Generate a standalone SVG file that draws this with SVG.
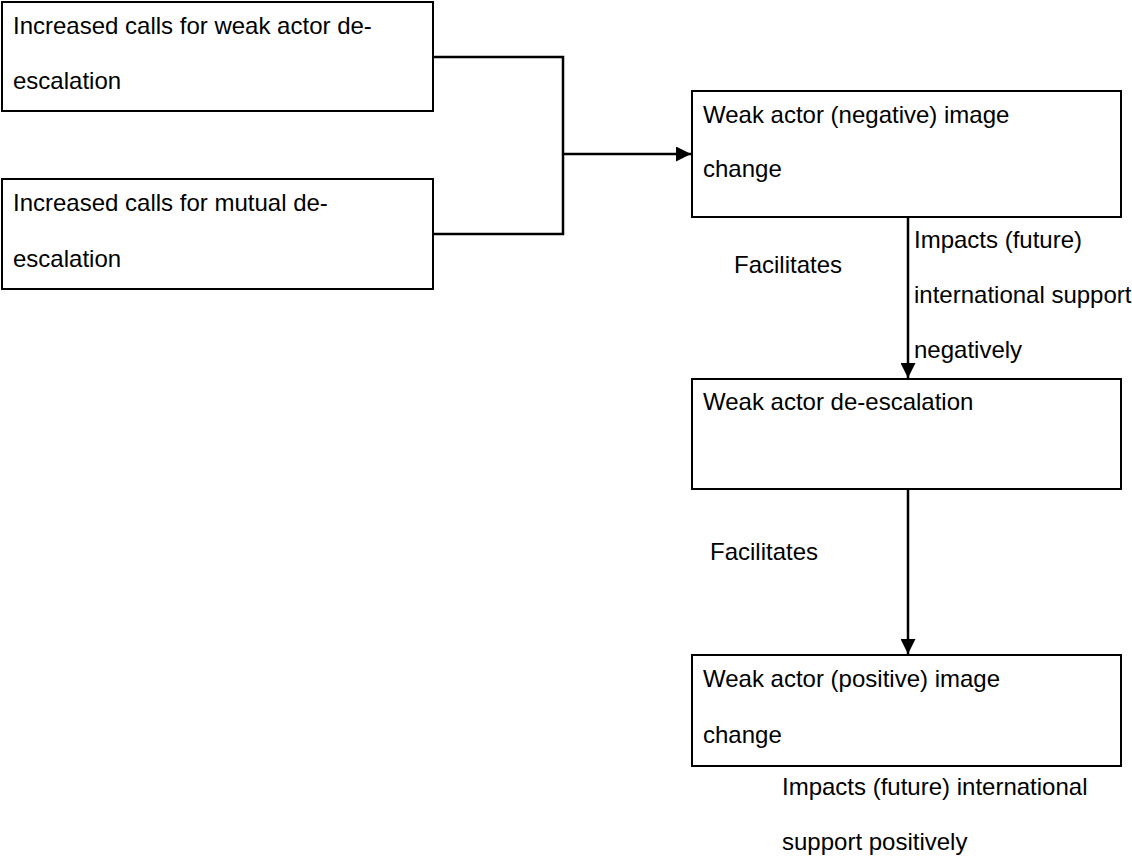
<svg xmlns="http://www.w3.org/2000/svg" width="1132" height="859" viewBox="0 0 1132 859">
<style>
.box{fill:#fff;stroke:#000;stroke-width:2}
.t{font-family:"Liberation Sans",Arial,sans-serif;font-size:24px;fill:#000}
.c{fill:none;stroke:#000;stroke-width:2.5}
</style>
<defs>
<marker id="arr" viewBox="0 0 15 15" refX="15" refY="7.5" markerWidth="15" markerHeight="15" markerUnits="userSpaceOnUse" orient="auto">
<path d="M0,0 L15,7.5 L0,15 Z" fill="#000"/>
</marker>
</defs>
<rect width="1132" height="859" fill="#fff"/>
<g id="n1"><rect class="box" x="2" y="2" width="431" height="109"/>
<text class="t" x="13" y="34">Increased calls for weak actor de-</text>
<text class="t" x="13" y="89">escalation</text></g>
<g id="n2"><rect class="box" x="2" y="179" width="431" height="110"/>
<text class="t" x="13" y="211">Increased calls for mutual de-</text>
<text class="t" x="13" y="267">escalation</text></g>
<g id="n3"><rect class="box" x="692" y="91" width="429" height="126"/>
<text class="t" x="703" y="123">Weak actor (negative) image</text>
<text class="t" x="703" y="177">change</text></g>
<g id="n4"><rect class="box" x="692" y="379" width="429" height="110"/>
<text class="t" x="703" y="410">Weak actor de-escalation</text></g>
<g id="n5"><rect class="box" x="692" y="655" width="429" height="111"/>
<text class="t" x="703" y="687">Weak actor (positive) image</text>
<text class="t" x="703" y="743">change</text></g>
<g id="connectors">
<path class="c" d="M433,57 H563 V234 H433"/>
<path class="c" d="M563,154 H691" marker-end="url(#arr)"/>
<path class="c" d="M908,217 V378" marker-end="url(#arr)"/>
<path class="c" d="M908,489 V654" marker-end="url(#arr)"/>
</g>
<g id="labels">
<text class="t" x="734" y="273">Facilitates</text>
<text class="t" x="914" y="248">Impacts (future)</text>
<text class="t" x="914" y="303">international support</text>
<text class="t" x="914" y="358">negatively</text>
<text class="t" x="710" y="560">Facilitates</text>
<text class="t" x="782" y="795">Impacts (future) international</text>
<text class="t" x="782" y="850">support positively</text>
</g>
</svg>
